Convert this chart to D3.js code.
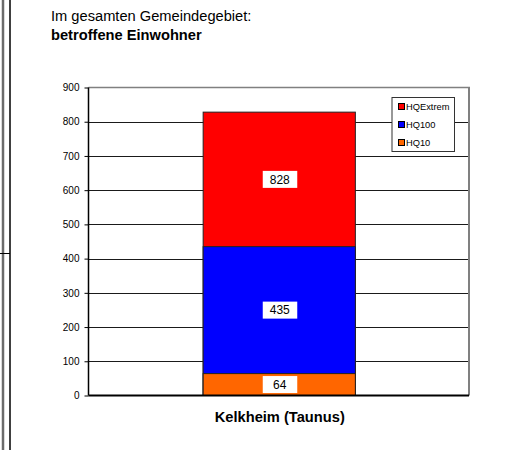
<!DOCTYPE html>
<html>
<head>
<meta charset="utf-8">
<script src="https://cdn.jsdelivr.net/npm/d3@7"></script>
<style>
  html, body { margin: 0; padding: 0; background: #fff; }
  svg { display: block; font-family: Arial, "Liberation Sans", sans-serif; }
</style>
</head>
<body>
<svg id="chart" width="509" height="450"></svg>
<script>
// ---- data ----
const titleLines = ["Im gesamten Gemeindegebiet:", "betroffene Einwohner"];
const categories = ["Kelkheim (Taunus)"];
const seriesNames = ["HQExtrem", "HQ100", "HQ10"];
const seriesValues = [828, 435, 64];          // totals as labelled
const seriesColors = ["#ff0000", "#0000ff", "#ff6600"];
const yTicks = [0, 100, 200, 300, 400, 500, 600, 700, 800, 900];

// ---- layout ----
const svg = d3.select("#chart");
const plot = { left: 88.5, right: 469, top: 87.5, bottom: 395.5 };

const y = d3.scaleLinear().domain([0, 900]).range([plot.bottom, plot.top]);
// Excel-like gap width 150% -> bar = 40% of category width
const x = d3.scaleBand().domain(categories).range([plot.left, plot.right]).padding(0.6 / 1.4);

// outer frame lines on left edge
svg.append("line").attr("x1", 3).attr("x2", 3).attr("y1", 0).attr("y2", 450)
  .attr("stroke", "#6b6b6b").attr("stroke-width", 2.5);
svg.append("line").attr("x1", 10).attr("x2", 10).attr("y1", 0).attr("y2", 450)
  .attr("stroke", "#000").attr("stroke-width", 1.5);
svg.append("line").attr("x1", 0).attr("x2", 10).attr("y1", 253.5).attr("y2", 253.5)
  .attr("stroke", "#000").attr("stroke-width", 1);

// title
svg.append("text").attr("x", 51).attr("y", 21).attr("font-size", "14.67px").attr("fill", "#000")
  .text(titleLines[0]);
svg.append("text").attr("x", 51).attr("y", 40).attr("font-size", "14.67px").attr("font-weight", "bold")
  .attr("fill", "#000").text(titleLines[1]);

// gridlines
svg.append("g").selectAll("line").data(yTicks.filter(d => d > 0 && d < 900)).join("line")
  .attr("x1", plot.left).attr("x2", plot.right)
  .attr("y1", d => Math.round(y(d)) + 0.5).attr("y2", d => Math.round(y(d)) + 0.5)
  .attr("stroke", "#1a1a1a").attr("stroke-width", 1);

// plot border top and right
svg.append("line").attr("x1", plot.left).attr("x2", plot.right + 1)
  .attr("y1", y(900)).attr("y2", y(900)).attr("stroke", "#808080").attr("stroke-width", 1.5);
svg.append("line").attr("x1", plot.right).attr("x2", plot.right)
  .attr("y1", y(900)).attr("y2", y(0)).attr("stroke", "#808080").attr("stroke-width", 2);

// bars: each series drawn from 0 to its value, largest first
const bw = x.bandwidth();
const cx = x(categories[0]);
svg.append("g").selectAll("rect").data(seriesValues).join("rect")
  .attr("x", cx + 0.5)
  .attr("width", bw)
  .attr("y", d => y(d))
  .attr("height", d => y(0) - y(d))
  .attr("fill", (d, i) => seriesColors[i])
  .attr("stroke", "#222").attr("stroke-width", 1);

// data labels (centred in visible segment)
const lower = seriesValues.map((d, i) => i + 1 < seriesValues.length ? seriesValues[i + 1] : 0);
const labG = svg.append("g");
seriesValues.forEach((v, i) => {
  const mid = (v + lower[i]) / 2;
  const cy = y(mid);
  const xc = cx + bw / 2 + 1;
  labG.append("rect").attr("x", xc - 17).attr("y", cy - 8.5).attr("width", 34.5).attr("height", 17)
    .attr("fill", "#fff");
  labG.append("text").attr("x", xc).attr("y", cy + 4.3).attr("text-anchor", "middle")
    .attr("font-size", "12px").attr("fill", "#000").text(v);
});

// y axis
const yAxis = d3.axisLeft(y).tickValues(yTicks).tickSize(4).tickPadding(5).tickFormat(d3.format("d"));
const ga = svg.append("g").attr("transform", `translate(${plot.left},0)`).call(yAxis);
ga.select(".domain").attr("stroke", "#000").attr("stroke-width", 1.5).attr("d", `M0,${y(900)}V${y(0)}`);
ga.selectAll(".tick line").attr("stroke", "#000");
ga.selectAll(".tick text").attr("font-size", "10px").attr("font-family", "Arial, 'Liberation Sans', sans-serif").attr("fill", "#000");

// x axis line
svg.append("line").attr("x1", plot.left).attr("x2", plot.right)
  .attr("y1", y(0)).attr("y2", y(0)).attr("stroke", "#000").attr("stroke-width", 2);

// category label
svg.append("text").attr("x", cx + bw / 2 + 1).attr("y", 422).attr("text-anchor", "middle")
  .attr("font-size", "14.67px").attr("font-weight", "bold").attr("fill", "#000").text(categories[0]);

// legend
const lg = svg.append("g");
lg.append("rect").attr("x", 392).attr("y", 97.5).attr("width", 62.5).attr("height", 54)
  .attr("fill", "#fff").attr("stroke", "#333").attr("stroke-width", 1);
seriesNames.forEach((n, i) => {
  const ly = 106.5 + i * 18;
  lg.append("rect").attr("x", 398.5).attr("y", ly - 3).attr("width", 6).attr("height", 6)
    .attr("fill", seriesColors[i]).attr("stroke", "#000").attr("stroke-width", 1);
  lg.append("text").attr("x", 406).attr("y", ly + 3.5).attr("font-size", "9.3px").attr("fill", "#000").text(n);
});
</script>
</body>
</html>
